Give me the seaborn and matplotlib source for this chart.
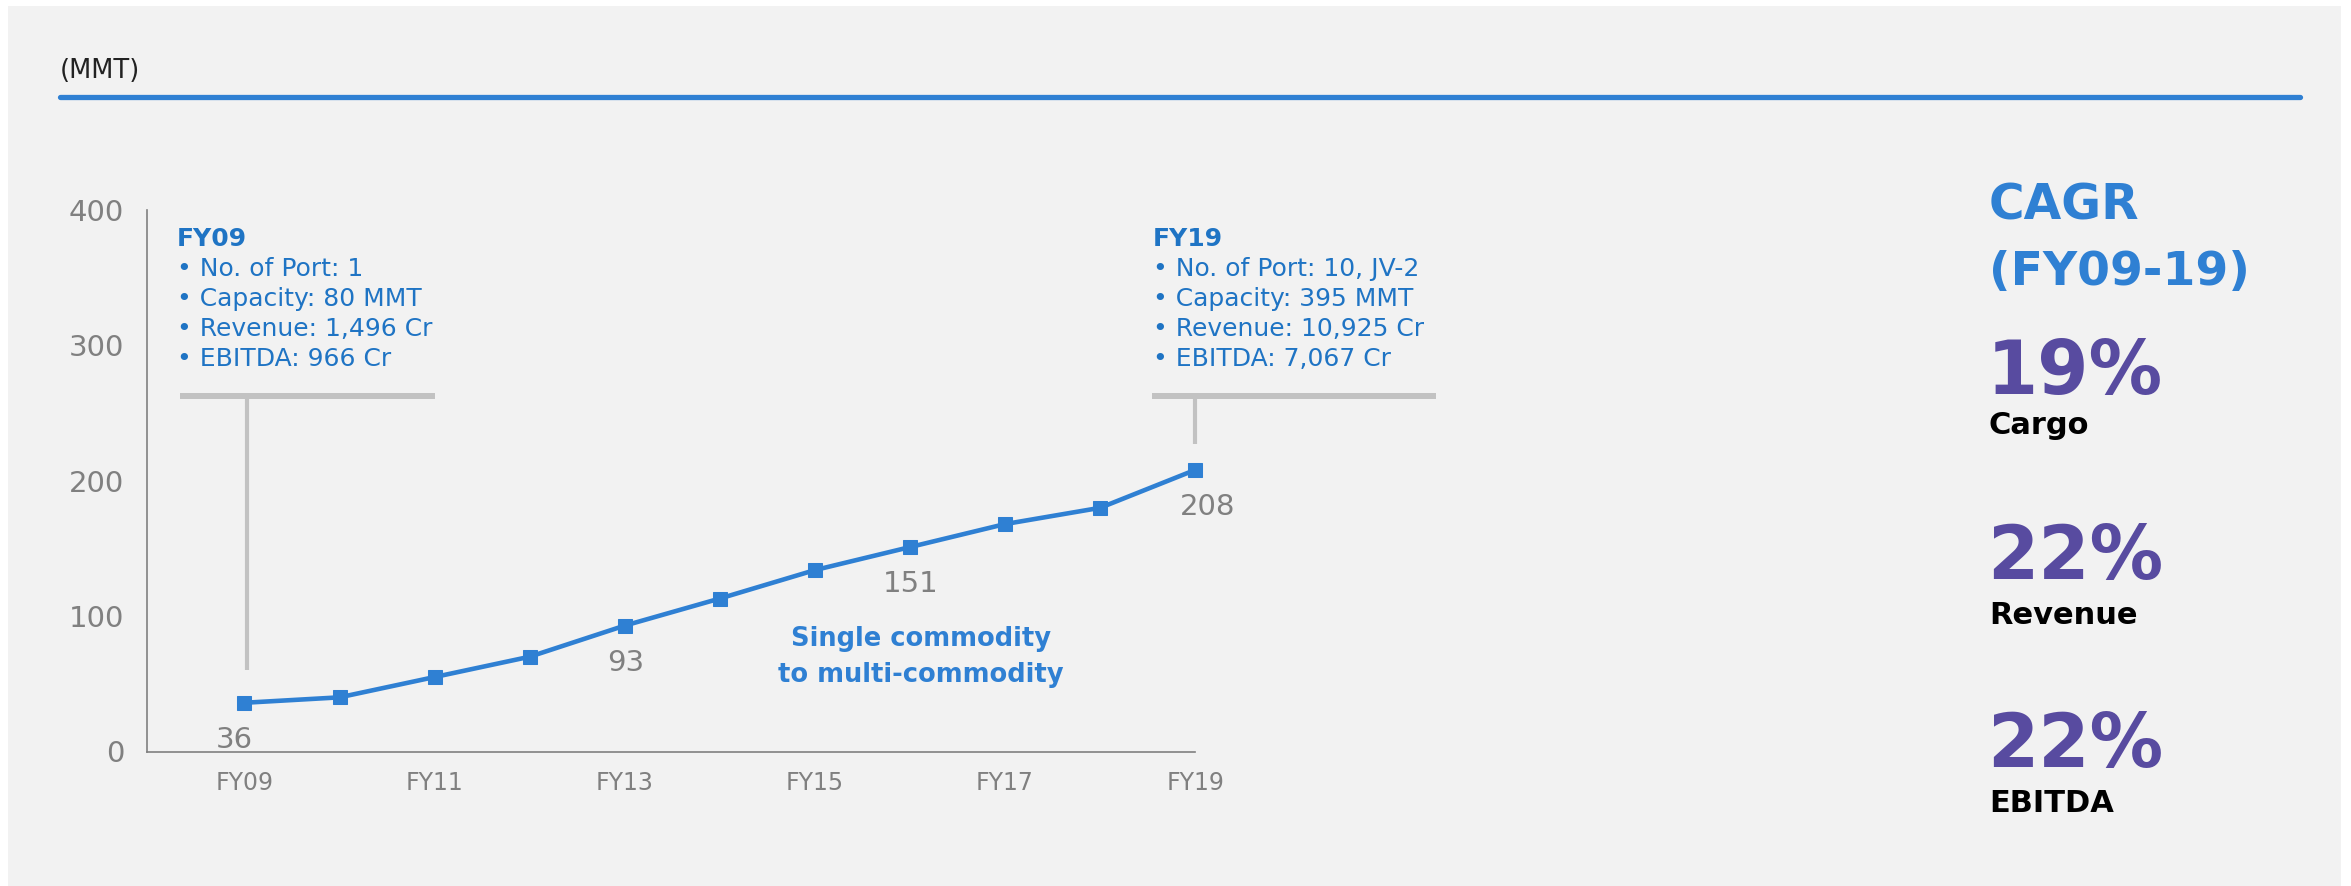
import matplotlib
matplotlib.use("Agg")
import matplotlib.pyplot as plt
import seaborn as sns
import pandas as pd
from matplotlib.patches import Rectangle

# ---------------- data ----------------
years = ["FY09", "FY10", "FY11", "FY12", "FY13", "FY14", "FY15", "FY16", "FY17", "FY18", "FY19"]
cargo = [36, 40, 55, 70, 93, 113, 134, 151, 168, 180, 208]
labelled_years = ["FY09", "FY13", "FY16", "FY19"]
y_ticks = [0, 100, 200, 300, 400]

fy09_title = "FY09"
fy09_lines = ["• No. of Port: 1", "• Capacity: 80 MMT", "• Revenue: 1,496 Cr", "• EBITDA: 966 Cr"]
fy19_title = "FY19"
fy19_lines = ["• No. of Port: 10, JV-2", "• Capacity: 395 MMT", "• Revenue: 10,925 Cr", "• EBITDA: 7,067 Cr"]

cagr_values = ["19%", "22%", "22%"]
cagr_names = ["Cargo", "Revenue", "EBITDA"]

# ---------------- style ----------------
sns.set_style("white")
plt.rcParams["font.family"] = ["DejaVu Sans"]

W, H = 2351, 886
BG = "#f2f2f2"
BLUE = "#2f80d3"
TXT_BLUE = "#1f74c4"
PURPLE = "#584ba0"
GRAY = "#808080"
LGRAY = "#c2c2c2"

fig = plt.figure(figsize=(W / 100, H / 100), dpi=100, facecolor="white")
fig.patches.append(Rectangle((8 / W, 0), (2341 - 8) / W, 1 - 6 / H,
                             transform=fig.transFigure, facecolor=BG,
                             edgecolor="none", zorder=-10))


def ftext(xpx, ypx, s, **kw):
    return fig.text(xpx / W, 1 - ypx / H, s, **kw)


# axes geometry
left_px, right_px = 147, 1450
top_px, bot_px = 210, 751.5
ax = fig.add_axes([left_px / W, 1 - bot_px / H, (right_px - left_px) / W, (bot_px - top_px) / H])
ax.set_facecolor("none")

df = pd.DataFrame({"idx": range(len(years)), "year": years, "cargo": cargo})
sns.lineplot(data=df, x="idx", y="cargo", ax=ax, color=BLUE, linewidth=3.3,
             marker="s", markersize=9.5, markeredgecolor=BLUE, markerfacecolor=BLUE)

ax.set_xlim(-1.025, 12.68)
ax.set_ylim(0, 400)
ax.set_xlabel("")
ax.set_ylabel("")

for s in ["top", "right"]:
    ax.spines[s].set_visible(False)
for s in ["left", "bottom"]:
    ax.spines[s].set_color(GRAY)
    ax.spines[s].set_linewidth(1.2)
ax.spines["bottom"].set_bounds(-1.025, 10)

ax.set_xticks(range(len(years)))
ax.set_xticklabels([y if i % 2 == 0 else "" for i, y in enumerate(years)])
ax.set_yticks(y_ticks)
ax.set_yticklabels([str(v) for v in y_ticks])
ax.tick_params(axis="x", direction="out", length=7, width=1.2, color=GRAY,
               labelcolor=GRAY, labelsize=17, pad=7)
ax.tick_params(axis="y", direction="out", length=6.5, width=1.2, color=GRAY,
               labelcolor=GRAY, labelsize=21, pad=10)

# data labels
for y in labelled_years:
    i = years.index(y)
    dx = -10 if y == "FY09" else (12 if y == "FY19" else 1)
    ax.annotate(str(cargo[i]), (i, cargo[i]), xytext=(dx, -37), textcoords="offset pixels",
                ha="center", va="center", fontsize=21, color=GRAY)

# brackets
ax.plot([-0.68, 2.0], [262.6, 262.6], color=LGRAY, linewidth=4.3, solid_capstyle="butt")
ax.plot([0.03, 0.03], [262.6, 60.2], color=LGRAY, linewidth=3.0, solid_capstyle="butt")
ax.plot([9.55, 12.53], [262.6, 262.6], color=LGRAY, linewidth=4.3, solid_capstyle="butt")
ax.plot([10, 10], [262.6, 227], color=LGRAY, linewidth=3.0, solid_capstyle="butt")

# annotation blocks
for x0, title, lines in [(177, fy09_title, fy09_lines), (1153, fy19_title, fy19_lines)]:
    ftext(x0, 246, title, fontsize=18, fontweight="bold", color=TXT_BLUE, va="baseline")
    for k, line in enumerate(lines):
        ftext(x0, 276 + 30 * k, line, fontsize=18, color=TXT_BLUE, va="baseline")

ftext(921, 639, "Single commodity", fontsize=18.5, fontweight="bold", color=BLUE,
      ha="center", va="center")
ftext(921, 675, "to multi-commodity", fontsize=18.5, fontweight="bold", color=BLUE,
      ha="center", va="center")

# header
ftext(60, 71, "(MMT)", fontsize=18.5, color="#222222", va="center")
fig.add_artist(plt.Line2D([60 / W, 2300 / W], [1 - 97 / H, 1 - 97 / H],
                          transform=fig.transFigure, color=BLUE, linewidth=3.8,
                          solid_capstyle="round"))

# CAGR panel
ftext(1989, 220, "CAGR", fontsize=35, fontweight="bold", color=BLUE, va="baseline")
ftext(1989, 285, "(FY09-19)", fontsize=34, fontweight="bold", color=BLUE, va="baseline")
for val, name, yv, yn in zip(cagr_values, cagr_names, [394, 579, 767], [434, 624, 812]):
    ftext(1987, yv, val, fontsize=53, fontweight="bold", color=PURPLE, va="baseline")
    ftext(1989, yn, name, fontsize=22, fontweight="bold", color="black", va="baseline")

fig.savefig("out.png", dpi=100, facecolor="white")
